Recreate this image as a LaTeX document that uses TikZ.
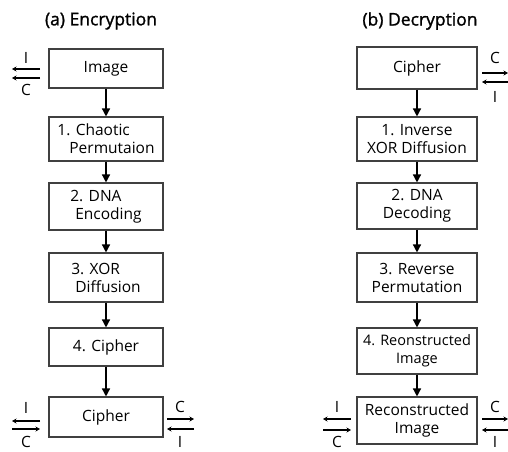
\documentclass[tikz,border=0pt]{standalone}
\usepackage{fontspec}
\setmainfont{Open Sans}
\newfontfamily\titlefont{Open Sans}[FakeBold=1.3]
\usetikzlibrary{arrows.meta}
\begin{document}
\begin{tikzpicture}[x=1pt,y=-1pt,
  font=\fontsize{15.5}{18}\selectfont,
  box/.style={draw=black!75, line width=1.1pt, inner sep=0pt, align=center},
  lbox/.style={box, minimum width=114pt},
  rbox/.style={box, minimum width=120pt},
  flow/.style={-{Triangle[length=8pt,width=8pt]}, line width=1.4pt},
  sym/.style={-{Stealth[length=4.5pt,width=5pt]}, line width=1.1pt},
  lbl/.style={inner sep=0pt, font=\fontsize{15.5}{18}\selectfont},
  title/.style={inner sep=0pt, font=\titlefont\fontsize{17.5}{20}\selectfont}]
\useasboundingbox (0,0) rectangle (508,451);

% titles
\node[title] (ta) at (101,21) {(a) Encryption};
\node[title] (tb) at (420,21) {(b) Decryption};

% left column
\node[lbox, minimum height=39pt] (a0) at (106,68.5) {Image};
\node[lbox, minimum height=44pt, align=left] (a1) at (106,139) {1. Chaotic\\\hspace*{12pt}Permutaion};
\node[lbox, minimum height=47pt, align=left] (a2) at (106,206.5) {2. DNA\\\hspace*{5pt}Encoding};
\node[lbox, minimum height=49pt, align=left] (a3) at (106,277.5) {3. XOR\\\hspace*{4pt}Diffusion};
\node[lbox, minimum height=38pt] (a4) at (106,347) {4. Cipher};
\node[lbox, minimum height=40pt] (a5) at (106,417) {Cipher};
\foreach \i/\j in {a0/a1,a1/a2,a2/a3,a3/a4,a4/a5} \draw[flow] (\i) -- (\j);

% right column
\node[rbox, minimum height=42pt] (b0) at (417,68) {Cipher};
\node[rbox, minimum height=44pt] (b1) at (417,139) {1. Inverse\\XOR Diffusion};
\node[rbox, minimum height=46pt] (b2) at (417,206) {2. DNA\\Decoding};
\node[rbox, minimum height=49pt] (b3) at (417,277.5) {3. Reverse\\Permutation};
\node[rbox, minimum height=46pt, font=\fontsize{14.5}{18}\selectfont] (b4) at (417,351) {4. Reonstructed\\Image};
\node[rbox, minimum height=47pt] (b5) at (417,420.5) {Reconstructed\\Image};
\foreach \i/\j in {b0/b1,b1/b2,b2/b3,b3/b4,b4/b5} \draw[flow] (\i) -- (\j);

% symbol: top-left (both left)
\node[lbl] (s1t) at (26,58) {I};
\node[lbl] (s1b) at (26,90) {C};
\coordinate (s1a) at (40,69); \coordinate (s1b1) at (12,69);
\coordinate (s1c) at (40,78); \coordinate (s1d) at (12,78);
\draw[sym] (s1a) -- (s1b1);
\draw[sym] (s1c) -- (s1d);

% symbol: top-right
\node[lbl] (s2t) at (495,58) {C};
\node[lbl] (s2b) at (495,97) {I};
\coordinate (s2a) at (482,73); \coordinate (s2b1) at (508,73);
\coordinate (s2c) at (508,82); \coordinate (s2d) at (482,82);
\draw[sym] (s2a) -- (s2b1);
\draw[sym] (s2c) -- (s2d);

% symbol: bottom-left, left
\node[lbl] (s3t) at (26,408) {I};
\node[lbl] (s3b) at (26,441.5) {C};
\coordinate (s3a) at (40,421); \coordinate (s3b1) at (12,421);
\coordinate (s3c) at (12,429); \coordinate (s3d) at (40,429);
\draw[sym] (s3a) -- (s3b1);
\draw[sym] (s3c) -- (s3d);

% symbol: bottom-left, right
\node[lbl] (s4t) at (180,407) {C};
\node[lbl] (s4b) at (180,441.5) {I};
\coordinate (s4a) at (167,419); \coordinate (s4b1) at (194,419);
\coordinate (s4c) at (194,429); \coordinate (s4d) at (167,429);
\draw[sym] (s4a) -- (s4b1);
\draw[sym] (s4c) -- (s4d);

% symbol: bottom-right, left
\node[lbl] (s5t) at (337,407) {I};
\node[lbl] (s5b) at (337,441.5) {C};
\coordinate (s5a) at (351,419); \coordinate (s5b1) at (323,419);
\coordinate (s5c) at (323,430); \coordinate (s5d) at (351,430);
\draw[sym] (s5a) -- (s5b1);
\draw[sym] (s5c) -- (s5d);

% symbol: bottom-right, right
\node[lbl] (s6t) at (495,407) {C};
\node[lbl] (s6b) at (495,441.5) {I};
\coordinate (s6a) at (482,419); \coordinate (s6b1) at (508,419);
\coordinate (s6c) at (508,430); \coordinate (s6d) at (482,430);
\draw[sym] (s6a) -- (s6b1);
\draw[sym] (s6c) -- (s6d);
\end{tikzpicture}
\end{document}
